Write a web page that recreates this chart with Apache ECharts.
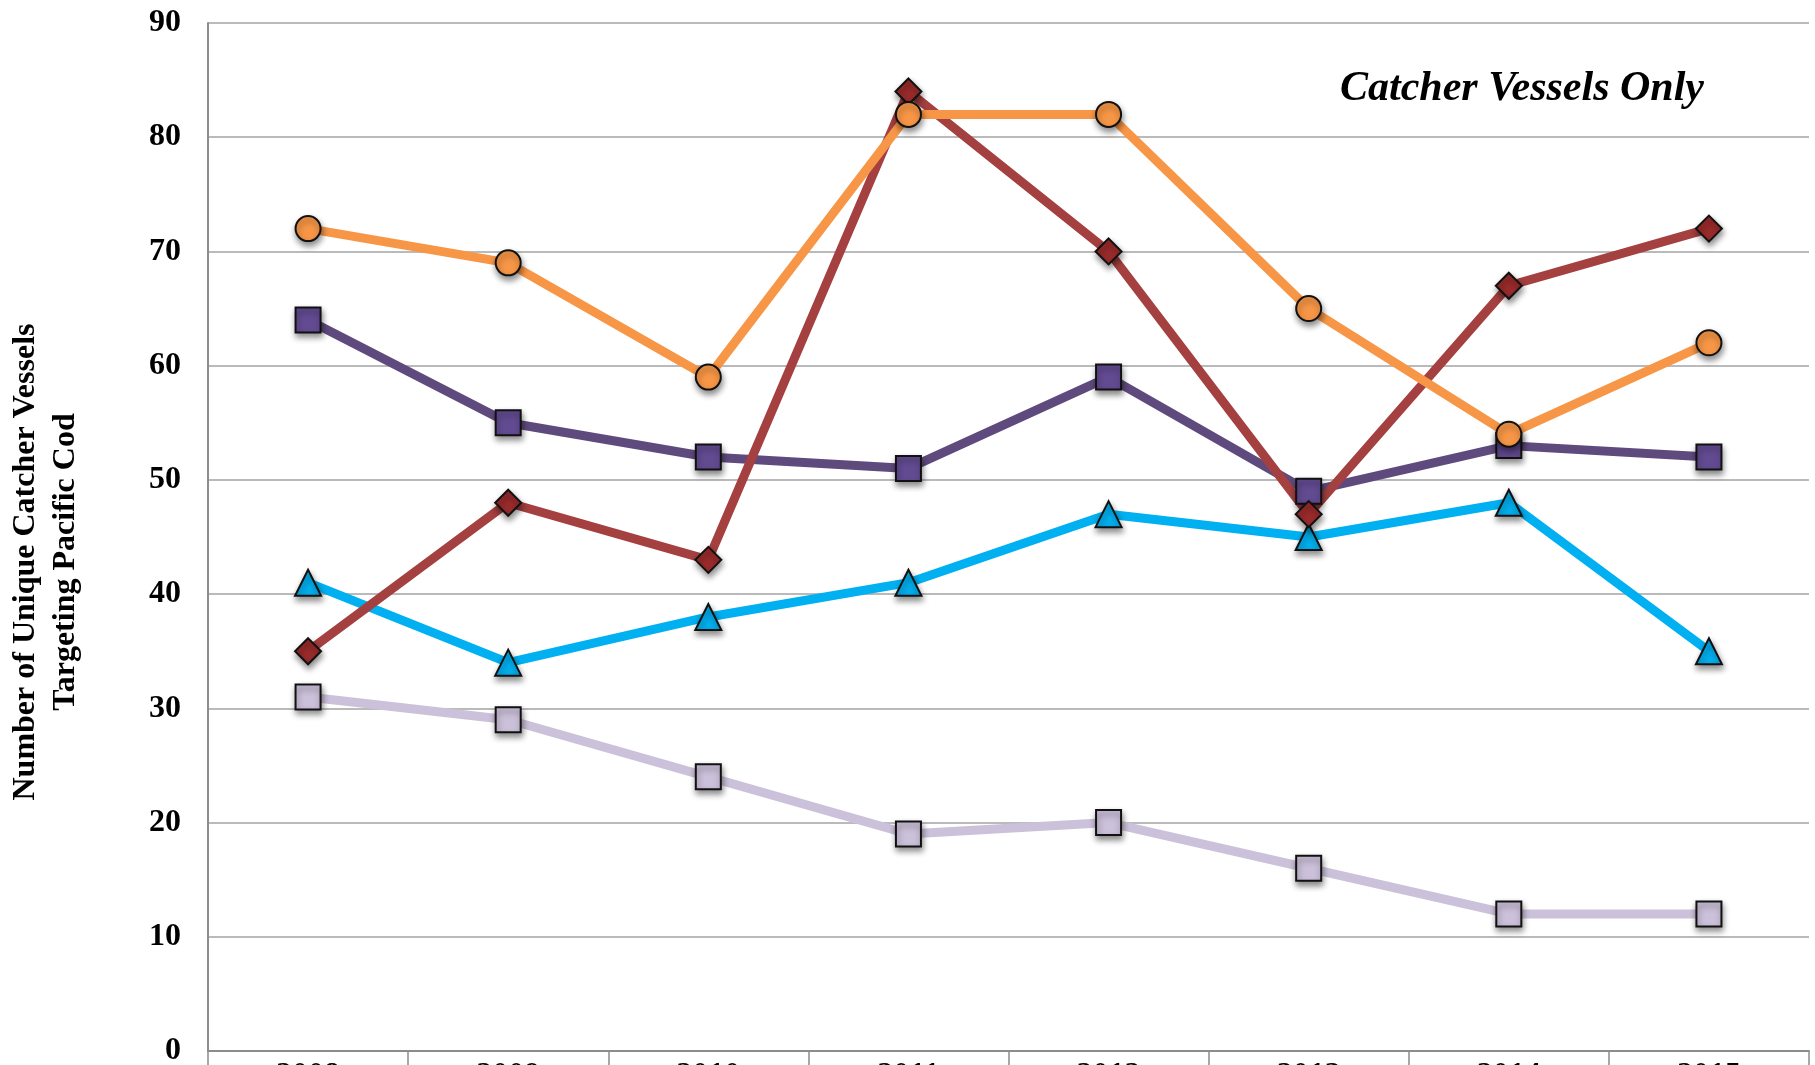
<!DOCTYPE html>
<html>
<head>
<meta charset="utf-8">
<title>Catcher Vessels Targeting Pacific Cod</title>
<script src="https://cdn.jsdelivr.net/npm/echarts@6/dist/echarts.min.js"></script>
<style>
  html, body { margin: 0; padding: 0; background: #fff; }
  #chart { width: 1815px; height: 1065px; }
</style>
</head>
<body>
<div id="chart"></div>
<script>
// categories and values
var years = ["2008", "2009", "2010", "2011", "2012", "2013", "2014", "2015"];
var orangeCircles = [72, 69, 59, 82, 82, 65, 54, 62];
var redDiamonds = [35, 48, 43, 84, 70, 47, 67, 72];
var purpleSquares = [64, 55, 52, 51, 59, 49, 53, 52];
var cyanTriangles = [41, 34, 38, 41, 47, 45, 48, 35];
var lilacSquares = [31, 29, 24, 19, 20, 16, 12, 12];
var yTicks = [0, 10, 20, 30, 40, 50, 60, 70, 80, 90];

var serif = '"Liberation Serif", "Times New Roman", serif';

function makeSeries(name, data, symbol, size, lineColor, fillColor) {
  return {
    name: name,
    type: "line",
    data: data,
    symbol: symbol,
    symbolSize: size,
    lineStyle: { color: lineColor, width: 9 },
    itemStyle: {
      color: fillColor,
      borderColor: "#111",
      borderWidth: 2,
      shadowBlur: 6,
      shadowOffsetX: 1,
      shadowOffsetY: 4,
      shadowColor: "rgba(0,0,0,0.45)"
    },
    emphasis: { disabled: true },
    animation: false
  };
}

var chart = echarts.init(document.getElementById("chart"));

var option = {
  backgroundColor: "#ffffff",
  textStyle: { fontFamily: serif },
  grid: { left: 208, right: 6, top: 23, bottom: 14, outerBoundsMode: "none" },
  xAxis: {
    type: "category",
    data: years,
    boundaryGap: true,
    axisLine: { lineStyle: { color: "#8c8c8c", width: 2 } },
    axisTick: { show: true, interval: 0, length: 30, lineStyle: { color: "#8c8c8c", width: 1.5 } },
    axisLabel: {
      margin: 9,
      color: "#000",
      fontSize: 32,
      fontWeight: "bold",
      fontFamily: serif
    }
  },
  yAxis: {
    type: "value",
    min: yTicks[0],
    max: yTicks[yTicks.length - 1],
    interval: 10,
    name: "Number of Unique Catcher Vessels\nTargeting Pacific Cod",
    nameLocation: "middle",
    nameGap: 122,
    nameTextStyle: {
      color: "#000",
      fontSize: 32,
      fontWeight: "bold",
      fontFamily: serif,
      lineHeight: 40,
      padding: [0, 50, 0, 0]
    },
    axisLine: { show: true, lineStyle: { color: "#8c8c8c", width: 2 } },
    axisTick: { show: false },
    splitLine: { lineStyle: { color: "#a3a3a3", width: 1.5 } },
    axisLabel: {
      margin: 27,
      color: "#000",
      fontSize: 32,
      fontWeight: "bold",
      fontFamily: serif
    }
  },
  graphic: [
    {
      type: "text",
      right: 111,
      top: 68,
      style: {
        text: "Catcher Vessels Only",
        fill: "#000",
        font: 'italic bold 42px "Liberation Serif", "Times New Roman", serif'
      }
    }
  ],
  series: [
    makeSeries("lilac squares", lilacSquares, "rect", 25, "#ccc1da", "#ccc1da"),
    makeSeries("cyan triangles", cyanTriangles, "triangle", 26, "#00b0f0", "#00b0f0"),
    makeSeries("purple squares", purpleSquares, "rect", 25, "#5f4a7e", "#634b92"),
    makeSeries("red diamonds", redDiamonds, "diamond", 26, "#a4403f", "#9a2b2b"),
    makeSeries("orange circles", orangeCircles, "circle", 25, "#f79646", "#f79646")
  ]
};

chart.setOption(option);

window.onresize = function() {
  chart.resize();
};
</script>
</body>
</html>
